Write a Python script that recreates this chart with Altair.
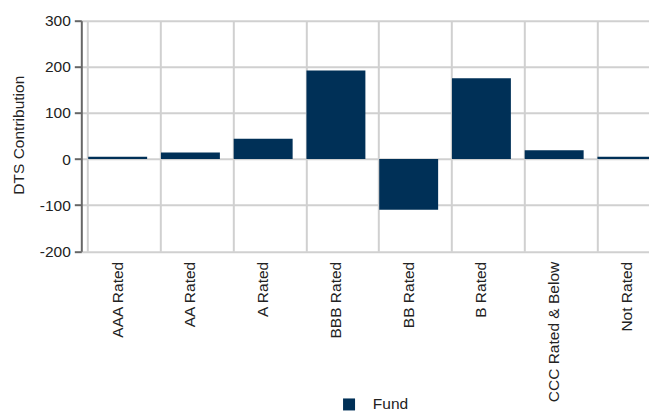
import altair as alt
import pandas as pd

categories = ["AAA Rated", "AA Rated", "A Rated", "BBB Rated", "BB Rated",
              "B Rated", "CCC Rated & Below", "Not Rated"]
fund_values = [5, 14, 44, 192, -110, 175, 19, 5]
series_name = "Fund"
y_ticks = [-200, -100, 0, 100, 200, 300]

df = pd.DataFrame({"category": categories, "value": fund_values,
                   "series": [series_name] * len(categories)})

FONT = "Liberation Sans"
NARROW = "Liberation Sans Narrow, Liberation Sans"
FS = 15.5

chart = alt.Chart(df).mark_bar(color="#003057").encode(
    x=alt.X("category:N", sort=categories, title=None,
            scale=alt.Scale(paddingInner=0.19, paddingOuter=0.095, range=[0, 582]),
            axis=alt.Axis(labelAngle=-90, ticks=False, domain=False,
                          labelPadding=10, grid=True, bandPosition=0,
                          gridColor="#d0d0d0", gridWidth=2,
                          labelFont=FONT, labelFontSize=FS, labelColor="#222")),
    y=alt.Y("value:Q", title="DTS Contribution",
            scale=alt.Scale(domain=[-200, 300], nice=False),
            axis=alt.Axis(values=y_ticks, grid=True, gridColor="#d0d0d0", gridWidth=2,
                          labelExpr="'' + datum.value",
                          domainColor="#666", domainWidth=2, tickColor="#666",
                          tickWidth=2, tickSize=7, labelPadding=4,
                          labelFont=NARROW, labelFontSize=FS, labelColor="#222",
                          titleFont=FONT, titleFontSize=FS, titleColor="#222",
                          titleFontWeight="normal", titleAngle=-90,
                          titleX=-63, titleY=114, titleAlign="center",
                          titleBaseline="middle")),
    color=alt.Color("series:N", scale=alt.Scale(range=["#003057"]),
                    legend=alt.Legend(title=None, orient="none", legendX=260,
                                      legendY=376, symbolType="square",
                                      symbolSize=144, symbolStrokeWidth=0,
                                      labelOffset=16, labelFont=NARROW,
                                      labelFontSize=FS, labelColor="#222",
                                      padding=0)),
).properties(
    width=567.7, height=230.6,
    autosize=alt.AutoSizeParams(type="none"),
    padding={"left": 73.3, "top": 12.7, "right": 0, "bottom": 160.7},
).configure_view(strokeWidth=0)

chart.save("out.html", embed_options={"renderer": "svg", "actions": False})
